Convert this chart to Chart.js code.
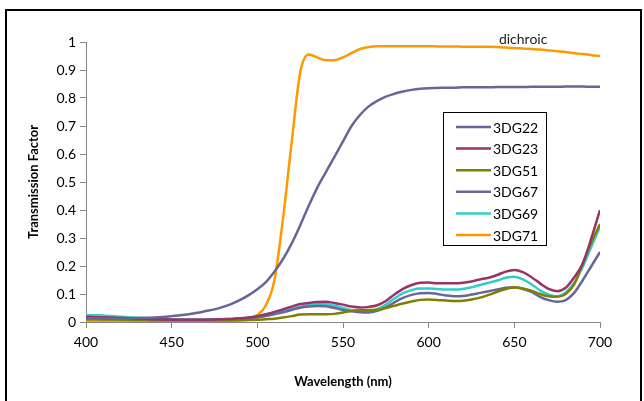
<!DOCTYPE html>
<html>
<head>
<meta charset="utf-8">
<script src="https://cdn.jsdelivr.net/npm/chart.js@4"></script>
<style>
  html, body { margin: 0; padding: 0; background: #fff; }
  #wrap { position: relative; width: 644px; height: 401px; overflow: hidden; }
  #frame { position: absolute; left: 5px; top: 9px; width: 633px; height: 420px;
           border: 2px solid #000; border-bottom: none; }
  #chart { position: absolute; left: 0; top: 0; }
</style>
</head>
<body>
<div id="wrap">
  <div id="frame"></div>
  <canvas id="chart" width="644" height="401"></canvas>
</div>
<script>
const wavelengths = [];
for (let w = 400; w <= 700; w += 5) wavelengths.push(w);

const seriesNames = ["3DG22", "3DG23", "3DG51", "3DG67", "3DG69", "3DG71"];
const seriesColors = ["#666699", "#993366", "#808000", "#666699", "#33CCCC", "#FF9900"];

const dg22 = [0.013, 0.013, 0.012, 0.012, 0.012, 0.013, 0.014, 0.015, 0.016, 0.018,
  0.021, 0.024, 0.028, 0.033, 0.039, 0.045, 0.054, 0.065, 0.079, 0.096,
  0.117, 0.142, 0.18, 0.225, 0.28, 0.345, 0.415, 0.48, 0.535, 0.59,
  0.645, 0.70, 0.74, 0.77, 0.79, 0.805, 0.815, 0.823, 0.829, 0.833,
  0.835, 0.836, 0.837, 0.837, 0.838, 0.838, 0.838, 0.838, 0.839, 0.839,
  0.839, 0.839, 0.84, 0.84, 0.84, 0.84, 0.841, 0.841, 0.841, 0.84, 0.84];

const dg23 = [0.018, 0.017, 0.016, 0.015, 0.014, 0.013, 0.012, 0.011, 0.01, 0.009,
  0.008, 0.008, 0.008, 0.008, 0.008, 0.009, 0.01, 0.011, 0.013, 0.016,
  0.021, 0.028, 0.036, 0.045, 0.055, 0.064, 0.068, 0.071, 0.072, 0.068,
  0.062, 0.055, 0.052, 0.054, 0.06, 0.075, 0.098, 0.118, 0.132, 0.14,
  0.141, 0.138, 0.138, 0.138, 0.14, 0.145, 0.152, 0.158, 0.168, 0.18,
  0.186, 0.178, 0.16, 0.138, 0.118, 0.11, 0.122, 0.16, 0.21, 0.30, 0.40];

const dg51 = [0.01, 0.01, 0.009, 0.009, 0.008, 0.008, 0.007, 0.007, 0.006, 0.006,
  0.006, 0.006, 0.006, 0.006, 0.006, 0.006, 0.006, 0.006, 0.006, 0.007,
  0.008, 0.01, 0.012, 0.016, 0.021, 0.027, 0.028, 0.028, 0.028, 0.029,
  0.034, 0.039, 0.042, 0.043, 0.044, 0.05, 0.058, 0.066, 0.073, 0.079,
  0.08, 0.079, 0.077, 0.075, 0.076, 0.08, 0.087, 0.097, 0.108, 0.118,
  0.123, 0.12, 0.112, 0.10, 0.092, 0.09, 0.10, 0.135, 0.21, 0.285, 0.35];

const dg67 = [0.018, 0.017, 0.016, 0.015, 0.014, 0.013, 0.012, 0.011, 0.01, 0.009,
  0.009, 0.008, 0.008, 0.008, 0.008, 0.008, 0.009, 0.01, 0.011, 0.013,
  0.016, 0.021, 0.028, 0.035, 0.043, 0.051, 0.055, 0.057, 0.056, 0.05,
  0.043, 0.038, 0.035, 0.034, 0.04, 0.052, 0.07, 0.086, 0.097, 0.103,
  0.104, 0.10, 0.095, 0.092, 0.093, 0.098, 0.104, 0.11, 0.116, 0.122,
  0.124, 0.118, 0.108, 0.09, 0.078, 0.072, 0.078, 0.105, 0.15, 0.20, 0.25];

const dg69 = [0.025, 0.024, 0.023, 0.021, 0.019, 0.017, 0.015, 0.013, 0.011, 0.01,
  0.009, 0.008, 0.008, 0.008, 0.008, 0.009, 0.01, 0.011, 0.013, 0.016,
  0.02, 0.026, 0.032, 0.04, 0.047, 0.055, 0.06, 0.063, 0.063, 0.058,
  0.05, 0.042, 0.039, 0.041, 0.046, 0.062, 0.084, 0.103, 0.114, 0.12,
  0.12, 0.118, 0.116, 0.116, 0.118, 0.124, 0.132, 0.14, 0.148, 0.158,
  0.162, 0.152, 0.135, 0.113, 0.098, 0.092, 0.105, 0.14, 0.198, 0.27, 0.34];

const dg71 = [0.003, 0.003, 0.003, 0.003, 0.003, 0.003, 0.003, 0.003, 0.003, 0.003,
  0.003, 0.003, 0.003, 0.003, 0.003, 0.003, 0.003, 0.003, 0.006, 0.012,
  0.025, 0.06, 0.15, 0.37, 0.64, 0.89, 0.955, 0.945, 0.935, 0.935,
  0.945, 0.96, 0.975, 0.982, 0.985, 0.985, 0.985, 0.985, 0.985, 0.985,
  0.985, 0.984, 0.984, 0.984, 0.983, 0.983, 0.983, 0.983, 0.982, 0.98,
  0.978, 0.977, 0.975, 0.973, 0.97, 0.967, 0.964, 0.96, 0.957, 0.953, 0.95];

const seriesValues = [dg22, dg23, dg51, dg67, dg69, dg71];

const xTicks = [400, 450, 500, 550, 600, 650, 700];
const noteText = "dichroic";
const noteAt = [641, 1.0];

const FONT = "Lato, 'Open Sans', sans-serif";
const AXIS_GREY = "#868686";

const boxLegend = {
  id: "boxLegend",
  afterDraw(chart) {
    const ctx = chart.ctx;
    const left = 443, top = 112, width = 103, height = 133;
    ctx.save();
    ctx.fillStyle = "#fff";
    ctx.fillRect(left, top, width, height);
    ctx.strokeStyle = "#000";
    ctx.lineWidth = 1;
    ctx.strokeRect(left + 0.5, top + 0.5, width, height);
    ctx.font = "14px " + FONT;
    ctx.textBaseline = "middle";
    ctx.textAlign = "left";
    chart.data.datasets.forEach((ds, i) => {
      const y = top + 15 + i * 21.6;
      ctx.strokeStyle = ds.borderColor;
      ctx.lineWidth = 2.5;
      ctx.beginPath();
      ctx.moveTo(456, y);
      ctx.lineTo(491, y);
      ctx.stroke();
      ctx.fillStyle = "#000";
      ctx.fillText(ds.label, 493, y + 1);
    });
    // note over the top curve
    const xs = chart.scales.x, ys = chart.scales.y;
    ctx.font = "14px " + FONT;
    ctx.fillStyle = "#222";
    ctx.textBaseline = "middle";
    ctx.fillText(noteText, xs.getPixelForValue(noteAt[0]), ys.getPixelForValue(noteAt[1]) - 3);
    ctx.restore();
  }
};

const datasets = seriesNames.map((name, i) => ({
  label: name,
  data: wavelengths.map((w, j) => ({ x: w, y: seriesValues[i][j] })),
  borderColor: seriesColors[i],
  backgroundColor: seriesColors[i],
  borderWidth: 2.5,
  pointRadius: 0,
  cubicInterpolationMode: "monotone",
  fill: false,
}));

new Chart(document.getElementById("chart").getContext("2d"), {
  type: "line",
  data: { datasets },
  options: {
    responsive: false,
    animation: false,
    layout: { padding: { top: 42, right: 44, bottom: 0, left: 0 } },
    plugins: {
      legend: { display: false },
      tooltip: { enabled: false },
    },
    scales: {
      x: {
        type: "linear",
        min: 400,
        max: 700,
        afterBuildTicks: (scale) => { scale.ticks = xTicks.map((v) => ({ value: v })); },
        afterFit: (scale) => { scale.height = 79; },
        ticks: { color: "#000", font: { family: FONT, size: 14 }, padding: 6 },
        grid: { display: true, drawOnChartArea: false, drawTicks: true, tickLength: 6, color: AXIS_GREY },
        border: { color: AXIS_GREY, width: 1 },
        title: {
          display: true,
          text: "Wavelength (nm)",
          color: "#000",
          font: { family: FONT, size: 13, weight: "bold" },
          padding: { top: 0, bottom: 11 },
        },
      },
      y: {
        min: 0,
        max: 1,
        afterFit: (scale) => { scale.width = 86; },
        ticks: {
          stepSize: 0.1,
          color: "#000",
          font: { family: FONT, size: 14 },
          padding: 4,
          callback: (v) => String(Math.round(v * 10) / 10),
        },
        grid: { display: true, drawOnChartArea: false, drawTicks: true, tickLength: 6, color: AXIS_GREY },
        border: { color: AXIS_GREY, width: 1 },
        title: {
          display: true,
          text: "Transmission Factor",
          color: "#000",
          font: { family: FONT, size: 13, weight: "bold" },
          padding: { top: 26, bottom: 0 },
        },
      },
    },
  },
  plugins: [boxLegend],
});
</script>
</body>
</html>
